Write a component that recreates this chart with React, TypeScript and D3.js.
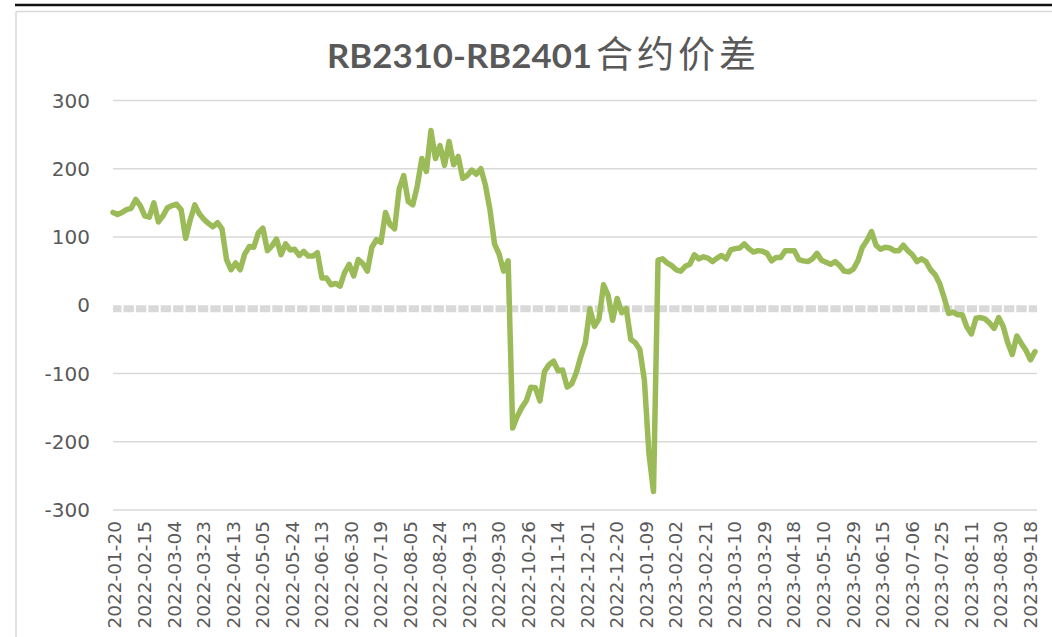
import React from 'react'
import * as d3 from 'd3'

// spread, one value every 2 trading days
const STEP = 2
const spread = [
	136, 133, 136, 140, 142, 155, 146, 131, 129, 150, 122, 131, 143, 146, 148, 140, 98, 125, 147, 134,
	126, 120, 115, 121, 112, 67, 52, 62, 52, 75, 86, 85, 106, 113, 80, 87, 97, 74, 90, 81,
	82, 73, 79, 72, 72, 77, 40, 40, 30, 32, 28, 48, 60, 43, 67, 61, 50, 85, 96, 92,
	136, 118, 112, 170, 190, 152, 147, 175, 215, 196, 256, 215, 234, 205, 240, 206, 218, 186, 190, 198,
	192, 200, 176, 140, 90, 75, 50, 65, -180, -163, -150, -140, -120, -121, -140, -97, -87, -82, -96, -95,
	-120, -115, -99, -75, -55, -5, -31, -20, 30, 15, -22, 10, -11, -5, -50, -55, -65, -110, -217, -273,
	66, 68, 62, 58, 52, 50, 57, 60, 74, 68, 71, 69, 64, 69, 73, 68, 81, 83, 84, 90,
	83, 78, 80, 79, 76, 65, 70, 70, 80, 80, 80, 67, 65, 64, 68, 76, 66, 63, 60, 64,
	58, 50, 49, 53, 65, 85, 95, 108, 88, 82, 85, 84, 80, 80, 88, 80, 74, 64, 68, 64,
	52, 45, 32, 11, -12, -10, -14, -14, -32, -42, -19, -18, -20, -26, -34, -18, -31, -55, -72, -45,
	-56, -66, -80, -68,
]

// one date label every 13 trading days
const TICK_EVERY = 13
const dateLabels = [
	'2022-01-20', '2022-02-15', '2022-03-04', '2022-03-23', '2022-04-13', '2022-05-05', '2022-05-24', '2022-06-13',
	'2022-06-30', '2022-07-19', '2022-08-05', '2022-08-24', '2022-09-13', '2022-09-30', '2022-10-26', '2022-11-14',
	'2022-12-01', '2022-12-20', '2023-01-09', '2023-02-02', '2023-02-21', '2023-03-10', '2023-03-29', '2023-04-18',
	'2023-05-10', '2023-05-29', '2023-06-15', '2023-07-06', '2023-07-25', '2023-08-11', '2023-08-30', '2023-09-18',
]

const yTicks = [300, 200, 100, 0, -100, -200, -300]

const titleLatin = 'RB2310-RB2401'
const titleCjk = '合约价差'

const width = 1052,
	height = 637
const plot = { left: 113, right: 1035, top: 100.5, bottom: 510 }
const textColor = '#595959'
const gridColor = '#d9d9d9'

const App = () => {
	const x = d3
		.scaleLinear()
		.domain([0, (spread.length - 1) * STEP])
		.range([plot.left, plot.right])
	const y = d3.scaleLinear().domain([-300, 300]).range([plot.bottom, plot.top])

	const line = d3
		.line<number>()
		.x((_, i) => x(i * STEP))
		.y((d) => y(d))

	return (
		<svg
			width={width}
			height={height}
			style={{ position: 'absolute', left: 0, top: 0, background: '#fff' }}
		>
			{/* frame */}
			<line x1={15} x2={width} y1={5} y2={5} stroke="#111" strokeWidth={2.5} />
			<line x1={16} x2={width} y1={11.5} y2={11.5} stroke={gridColor} strokeWidth={1.5} />
			<line x1={16} x2={16} y1={11.5} y2={height} stroke={gridColor} strokeWidth={1.5} />

			<text y={67.5} fill={textColor}>
				<tspan
					x={327}
					fontFamily="Lato, 'Open Sans', sans-serif"
					fontWeight="bold"
					fontSize={32}
					textLength={265}
					lengthAdjust="spacingAndGlyphs"
				>
					{titleLatin}
				</tspan>
				<tspan
					x={596}
					fontFamily="'Noto Sans CJK SC', sans-serif"
					fontSize={37}
					letterSpacing={4}
				>
					{titleCjk}
				</tspan>
			</text>

			{yTicks
				.filter((t) => t !== 0)
				.map((t) => (
					<line
						key={t}
						x1={plot.left}
						x2={plot.right + 2}
						y1={y(t)}
						y2={y(t)}
						stroke={gridColor}
						strokeWidth={1.5}
					/>
				))}
			{/* zero axis band */}
			<line
				x1={plot.left}
				x2={plot.right + 2}
				y1={y(0) + 3.5}
				y2={y(0) + 3.5}
				stroke={gridColor}
				strokeWidth={7}
				strokeDasharray="10.4 2"
				strokeDashoffset={1.9}
			/>

			{yTicks.map((t) => (
				<text
					key={t}
					x={90}
					y={y(t)}
					dy="0.35em"
					textAnchor="end"
					fontFamily="'DejaVu Sans', sans-serif"
					fontSize={20}
					fill={textColor}
				>
					{t}
				</text>
			))}

			{dateLabels.map((lab, k) => (
				<text
					key={lab}
					transform={`translate(${x(k * TICK_EVERY) + 2}, 521) rotate(-90)`}
					dy="0.35em"
					textAnchor="end"
					fontFamily="'DejaVu Sans', sans-serif"
					fontSize={18.5}
					fill={textColor}
				>
					{lab}
				</text>
			))}

			<path
				d={line(spread) || ''}
				fill="none"
				stroke="#9bbb59"
				strokeWidth={5.5}
				strokeLinejoin="round"
				strokeLinecap="round"
			/>
		</svg>
	)
}

export default App
